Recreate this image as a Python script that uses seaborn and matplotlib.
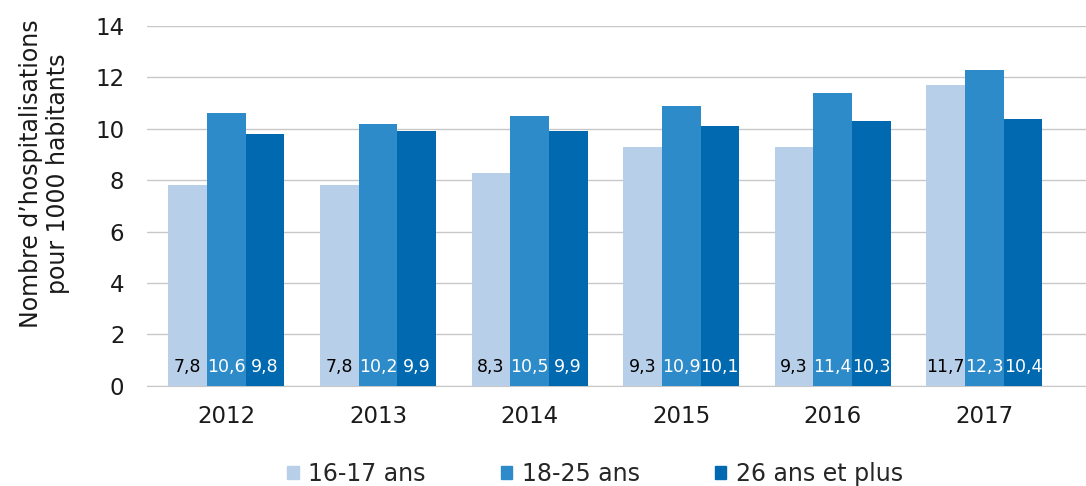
import pandas as pd
import seaborn as sns
import matplotlib.pyplot as plt

# Data
years = ['2012', '2013', '2014', '2015', '2016', '2017']
groups = ['16-17 ans', '18-25 ans', '26 ans et plus']
vals_16_17 = [7.8, 7.8, 8.3, 9.3, 9.3, 11.7]
vals_18_25 = [10.6, 10.2, 10.5, 10.9, 11.4, 12.3]
vals_26_plus = [9.8, 9.9, 9.9, 10.1, 10.3, 10.4]

colors = ['#b8cfea', '#2e8bc9', '#0069b0']
label_colors = ['black', 'white', 'white']

df = pd.DataFrame({
    'annee': years * 3,
    'groupe': [groups[0]] * 6 + [groups[1]] * 6 + [groups[2]] * 6,
    'valeur': vals_16_17 + vals_18_25 + vals_26_plus,
})

sns.set_style('white')
plt.rcParams['font.family'] = ['DejaVu Sans']

fig = plt.figure(figsize=(10.86, 4.86), dpi=100)
ax = fig.add_axes([0.135, 0.206, 0.865, 0.7405])

sns.barplot(data=df, x='annee', y='valeur', hue='groupe', palette=colors,
            width=0.765, saturation=1, linewidth=0, ax=ax, legend=True, zorder=3)

ax.set_ylim(0, 14)
ax.set_yticks(range(0, 15, 2))
ax.set_xlim(-0.526, 5.67)
ax.yaxis.grid(True, color='#c8c8c8', linewidth=1, zorder=0)
ax.set_axisbelow(True)
for s in ['top', 'right', 'left']:
    ax.spines[s].set_visible(False)
ax.spines['bottom'].set_color('#c8c8c8')
ax.tick_params(axis='both', length=0, labelsize=16.5, colors='#1a1a1a')
ax.tick_params(axis='y', pad=16)
ax.tick_params(axis='x', pad=14)
ax.set_xlabel('')
ax.set_ylabel('')
fig.text(0.041, 0.642, "Nombre d\u2019hospitalisations\npour 1000 habitants", fontsize=17,
         color='#1a1a1a', rotation=90, ha='center', va='center', multialignment='center')

# Value labels at the bottom of the bars
for i, cont in enumerate(ax.containers):
    labels = [f'{v:.1f}'.replace('.', ',') for v in cont.datavalues]
    for bar, lab in zip(cont, labels):
        ax.text(bar.get_x() + bar.get_width() / 2, 0.72, lab, ha='center', va='center',
                fontsize=12.5, color=label_colors[i], zorder=4)

ax.legend_.remove()
handles = [plt.Rectangle((0, 0), 1, 1, color=c) for c in colors]
fig.legend(handles, groups, loc='center', bbox_to_anchor=(0.548, 0.025), ncol=3,
           frameon=False, fontsize=17, handlelength=0.47, handleheight=0.47,
           handletextpad=0.4, columnspacing=3.2)

plt.savefig('out.png', dpi=100)
